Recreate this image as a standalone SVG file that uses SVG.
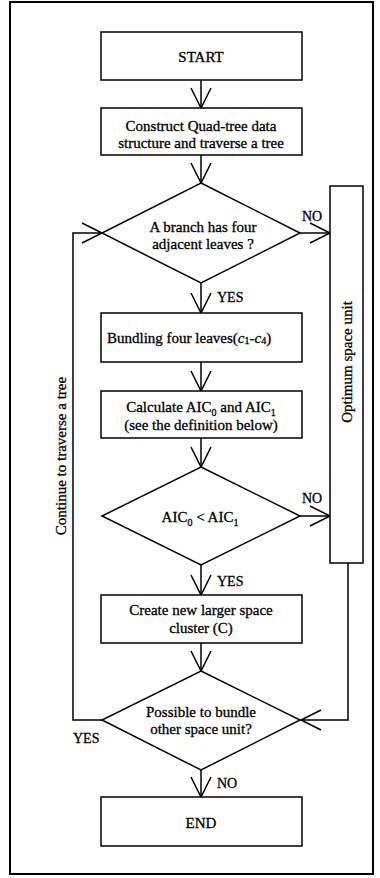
<svg xmlns="http://www.w3.org/2000/svg" width="380" height="878" viewBox="0 0 380 878">
  <style>
    .shape { fill: #ffffff; stroke: #000000; stroke-width: 1.5; }
    .frame { fill: #ffffff; stroke: #000000; stroke-width: 2; }
    .wire { fill: none; stroke: #000000; stroke-width: 1.5; }
    text { font-family: "Liberation Serif", "Times New Roman", serif; fill: #000000; stroke: #000000; stroke-width: 0.3; }
    .t { font-size: 15px; text-anchor: middle; }
    .lbl { font-size: 14px; }
    .sub { font-size: 10px; }
  </style>
  <defs>
    <marker id="vee" markerUnits="userSpaceOnUse" markerWidth="24" markerHeight="24" viewBox="-22 -12 24 24" refX="0" refY="0" orient="auto" overflow="visible">
      <path d="M-20,-10 L0,0 L-20,10" fill="none" stroke="#000000" stroke-width="1.5"/>
    </marker>
  </defs>

  <!-- outer frame -->
  <rect class="frame" x="10" y="2" width="363" height="872"/>

  <!-- connectors -->
  <g id="connectors">
    <line class="wire" x1="201" y1="80" x2="201" y2="108" marker-end="url(#vee)"/>
    <line class="wire" x1="201" y1="155" x2="201" y2="183" marker-end="url(#vee)"/>
    <line class="wire" x1="300" y1="233" x2="330" y2="233" marker-end="url(#vee)"/>
    <line class="wire" x1="201" y1="283" x2="201" y2="313" marker-end="url(#vee)"/>
    <line class="wire" x1="201" y1="362" x2="201" y2="391" marker-end="url(#vee)"/>
    <line class="wire" x1="201" y1="438" x2="201" y2="467" marker-end="url(#vee)"/>
    <line class="wire" x1="300" y1="516" x2="330" y2="516" marker-end="url(#vee)"/>
    <line class="wire" x1="201" y1="565" x2="201" y2="595" marker-end="url(#vee)"/>
    <line class="wire" x1="201" y1="643" x2="201" y2="671" marker-end="url(#vee)"/>
    <line class="wire" x1="201" y1="770" x2="201" y2="797" marker-end="url(#vee)"/>
    <!-- from optimum box back into the last decision -->
    <polyline class="wire" points="348,563 348,720 301,720" marker-end="url(#vee)"/>
    <!-- loop back to the first decision -->
    <polyline class="wire" points="102,720 73,720 73,233 102,233" marker-end="url(#vee)"/>

    <text class="lbl" x="302" y="221">NO</text>
    <text class="lbl" x="217" y="302">YES</text>
    <text class="lbl" x="302" y="503">NO</text>
    <text class="lbl" x="217" y="586">YES</text>
    <text class="lbl" x="73" y="743">YES</text>
    <text class="lbl" x="217" y="788">NO</text>
    <text class="t" transform="translate(66,456) rotate(-90)">Continue to traverse a tree</text>
  </g>

  <g id="start">
    <rect class="shape" x="101" y="32" width="201" height="48"/>
    <text class="t" x="201" y="62">START</text>
  </g>

  <g id="construct">
    <rect class="shape" x="101" y="108" width="201" height="47"/>
    <text class="t" x="201" y="131">Construct Quad-tree data</text>
    <text class="t" x="201" y="148">structure and traverse a tree</text>
  </g>

  <g id="four-leaves">
    <polygon class="shape" points="201,183 300,233 201,283 102,233"/>
    <text class="t" x="203" y="232">A branch has four</text>
    <text class="t" x="203" y="249">adjacent leaves ?</text>
  </g>

  <g id="bundling">
    <rect class="shape" x="101" y="313" width="201" height="49"/>
    <text x="107" y="343" font-size="15">Bundling four leaves(<tspan font-style="italic">c</tspan><tspan class="sub" dy="1">1</tspan><tspan dy="-1">-</tspan><tspan font-style="italic">c</tspan><tspan class="sub" dy="1">4</tspan><tspan dy="-1">)</tspan></text>
  </g>

  <g id="calculate">
    <rect class="shape" x="101" y="391" width="201" height="47"/>
    <text class="t" x="201" y="412">Calculate AIC<tspan class="sub" dy="4">0</tspan><tspan dy="-4"> and AIC</tspan><tspan class="sub" dy="4">1</tspan></text>
    <text class="t" x="201" y="430">(see the definition below)</text>
  </g>

  <g id="compare">
    <polygon class="shape" points="201,467 300,516 201,565 102,516"/>
    <text class="t" x="200" y="522">AIC<tspan class="sub" dy="4">0</tspan><tspan dy="-4"> &lt; AIC</tspan><tspan class="sub" dy="4">1</tspan></text>
  </g>

  <g id="optimum">
    <rect class="shape" x="330" y="186" width="33" height="377"/>
    <text class="t" transform="translate(352,362) rotate(-90)">Optimum space unit</text>
  </g>

  <g id="create">
    <rect class="shape" x="101" y="595" width="201" height="48"/>
    <text class="t" x="201" y="615">Create new larger space</text>
    <text class="t" x="201" y="633">cluster (C)</text>
  </g>

  <g id="possible">
    <polygon class="shape" points="201,671 300,720 201,770 102,720"/>
    <text class="t" x="201" y="717">Possible to bundle</text>
    <text class="t" x="201" y="734">other space unit?</text>
  </g>

  <g id="end">
    <rect class="shape" x="101" y="797" width="201" height="49"/>
    <text class="t" x="201" y="828">END</text>
  </g>
</svg>
